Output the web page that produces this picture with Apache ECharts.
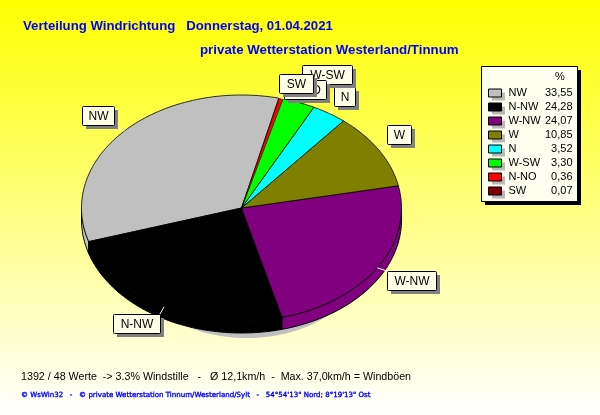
<!DOCTYPE html>
<html>
<head>
<meta charset="utf-8">
<style>html,body{margin:0;padding:0;background:#fff}#c{width:600px;height:415px}</style>
<script src="https://cdn.jsdelivr.net/npm/echarts@6/dist/echarts.min.js"></script>
</head>
<body>
<div id="c"></div>
<script>
// Data (already sorted as in the legend)
const categories = ['NW','N-NW','W-NW','W','N','W-SW','N-NO','SW'];
const percentages = [33.55,24.28,24.07,10.85,3.52,3.30,0.36,0.07];
const colors = ['#C0C0C0','#000000','#800080','#808000','#00FFFF','#00FF00','#FF0000','#800000'];
// Clockwise order of the slices around the pie
const pieOrder = ['NW','SW','N-NO','W-SW','N','W','W-NW','N-NW'];

// Layout of the tilted pie, kept apart from the data
const PIE = {cx:241.5, cy:208, rx:160, ry:113, depth:12, startDeg:-107.3};
const LABEL_H = 19;
const labelLayout = {
  'NW':{dx:-43,dy:-25,w:32}, 'N-NW':{dx:-51,dy:7,w:47}, 'W-NW':{dx:10,dy:3,w:49},
  'W':{dx:8,dy:-25,w:24}, 'N':{dx:5,dy:-26,w:21}, 'W-SW':{dx:3,dy:-37.5,w:50},
  'N-NO':{dx:3,dy:-18.5,w:42}, 'SW':{dx:0,dy:-24,w:34}
};

const total = percentages.reduce((a,b)=>a+b,0);
const startOf = {};
pieOrder.reduce((acc,name)=>{startOf[name]=acc; return acc+percentages[categories.indexOf(name)];},0);

function rim(deg,shift){
  const t=deg*Math.PI/180;
  return [PIE.cx+PIE.rx*Math.sin(t), PIE.cy-PIE.ry*Math.cos(t)+(shift||0)];
}
function arc(a,b,shift){
  const n=Math.max(2,Math.ceil((b-a)/1.5)), pts=[];
  for(let i=0;i<=n;i++) pts.push(rim(a+(b-a)*i/n,shift));
  return pts;
}
function wallPieces(a,b){
  const out=[];
  for(const k of [-360,0,360]){
    const lo=Math.max(a,90+k), hi=Math.min(b,270+k);
    if(hi>lo) out.push([lo,hi]);
  }
  return out;
}
function renderSlice(params,api){
  const name=categories[params.seriesIndex];
  const value=api.value(0), start=api.value(1);
  const a=PIE.startDeg+start/total*360, b=a+value/total*360;
  const color=colors[params.seriesIndex];
  const children=[];
  wallPieces(a,b).forEach(([lo,hi])=>{
    children.push({type:'polygon',shape:{points:arc(lo,hi,0).concat(arc(lo,hi,PIE.depth).reverse())},
      style:{fill:color,stroke:'#000',lineWidth:1}});
  });
  children.push({type:'polygon',shape:{points:[[PIE.cx,PIE.cy]].concat(arc(a,b,0))},
    style:{fill:color,stroke:'#000',lineWidth:value<1?0.25:0.8}});
  const m=rim((a+b)/2,0), L=labelLayout[name];
  const x=Math.round(m[0]+L.dx), y=Math.round(m[1]+L.dy);
  const ex=Math.min(Math.max(m[0],x),x+L.w), ey=Math.min(Math.max(m[1],y),y+LABEL_H);
  children.push({type:'line',shape:{x1:m[0],y1:m[1],x2:ex,y2:ey},style:{stroke:'#fff',lineWidth:1}});
  children.push({type:'rect',shape:{x:x+4,y:y+4,width:L.w,height:LABEL_H},style:{fill:'#808080'}});
  children.push({type:'rect',shape:{x:x+.5,y:y+.5,width:L.w,height:LABEL_H,r:1},style:{fill:'#FFFFE8',stroke:'#000',lineWidth:1}});
  children.push({type:'text',style:{x:x+L.w/2+.5,y:y+LABEL_H/2+1,text:name,align:'center',verticalAlign:'middle',
    font:'12px "Liberation Sans"',fill:'#000'}});
  return {type:'group',children};
}

const fmt=v=>v.toFixed(2).replace('.',',');
const txt=(text,left,top,font,color)=>({text,left,top,textStyle:{fontFamily:font.f,fontSize:font.s,fontWeight:font.w||'normal',color:color,lineHeight:font.s+2,textBorderColor:font.b?color:'transparent',textBorderWidth:font.b||0}});
const headFont={f:'Liberation Sans',s:13.2,w:'bold'};
const head2Font={f:'Liberation Sans',s:13.3,w:'bold'};
const bodyFont={f:'Liberation Sans',s:10.7};
const legendHeadFont={f:'Liberation Sans',s:11};
const smallFont={f:'DejaVu Sans',s:7.05,b:0.35};

const LEG = {x:488,y:88.5,row:14};
const chart=echarts.init(document.getElementById('c'),null,{renderer:'canvas',width:600,height:415});
chart.setOption({
  animation:false,
  backgroundColor:new echarts.graphic.LinearGradient(0,0,0,1,[{offset:0,color:'#FFFF00'},{offset:1,color:'#FFFFFF'}]),
  title:[
    txt('Verteilung Windrichtung   Donnerstag, 01.04.2021',18,14,headFont,'#0000FF'),
    txt('private Wetterstation Westerland/Tinnum',195,38,head2Font,'#0000FF'),
    txt('%',550,65,legendHeadFont,'#000'),
    txt('1392 / 48 Werte  -> 3.3% Windstille   -   Ø 12,1km/h  -  Max. 37,0km/h = Windböen',16,366,bodyFont,'#000'),
    txt('© WsWin32   -   © private Wetterstation Tinnum/Westerland/Sylt   -   54°54\'13" Nord; 8°19\'13" Ost',16,386,smallFont,'#0000FF')
  ],
  graphic:[
    {type:'ellipse',z:0,shape:{cx:247,cy:268,rx:110,ry:70},style:{fill:'#C0C0C0'}},
    {type:'rect',z:0,shape:{x:485,y:70,width:96,height:135},style:{fill:'#000'}},
    {type:'rect',z:0,shape:{x:481.5,y:66.5,width:96,height:135},style:{fill:'#FFFFF0',stroke:'#000',lineWidth:1}}
  ].concat(categories.map((c,i)=>({type:'rect',z:1,shape:{x:LEG.x+4,y:LEG.y+4+i*LEG.row,width:13,height:8},style:{fill:'#B8B8B8'}}))),
  legend:{
    data:categories, left:LEG.x-5, top:LEG.y-6, orient:'vertical', itemWidth:13, itemHeight:8, itemGap:3,
    itemStyle:{borderColor:'#000',borderWidth:1},
    icon:'rect', selectedMode:false,
    formatter:name=>`{n|${name}}{v|${fmt(percentages[categories.indexOf(name)])}}`,
    textStyle:{rich:{
      n:{width:35,padding:[0,0,0,2],fontFamily:'Liberation Sans',fontSize:11,color:'#000',lineHeight:13},
      v:{width:29,align:'right',fontFamily:'Liberation Sans',fontSize:11,color:'#000',lineHeight:13}
    }}
  },
  series:categories.map((name,i)=>({
    type:'custom', name, coordinateSystem:'none', renderItem:renderSlice, silent:true, clip:false,
    itemStyle:{color:colors[i]},
    data:[[percentages[i],startOf[name]]]
  }))
});
</script>
</body>
</html>
